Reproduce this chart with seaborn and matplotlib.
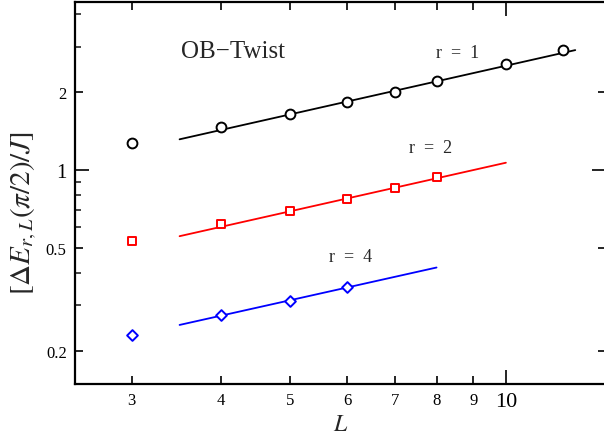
import numpy as np
import pandas as pd
import matplotlib
matplotlib.use("Agg")
import matplotlib.pyplot as plt
import matplotlib.ticker as mticker
import seaborn as sns

# ---- data ----
L_r1 = [3, 4, 5, 6, 7, 8, 10, 12]
E_r1 = [1.27, 1.47, 1.645, 1.835, 2.01, 2.21, 2.56, 2.92]
L_r2 = [3, 4, 5, 6, 7, 8]
E_r2 = [0.533, 0.619, 0.697, 0.773, 0.850, 0.937]
L_r4 = [3, 4, 5, 6]
E_r4 = [0.231, 0.276, 0.313, 0.352]

fit_r1_L = [3.5, 12.5]
fit_r1_E = [1.314, 2.906]
fit_r2_L = [3.5, 10.0]
fit_r2_E = [0.555, 1.067]
fit_r4_L = [3.5, 8.0]
fit_r4_E = [0.252, 0.420]

x_ticks = [3, 4, 5, 6, 7, 8, 9, 10]
x_ticklabels = ["3", "4", "5", "6", "7", "8", "9", "10"]
y_ticks = [0.2, 0.5, 1, 2]
y_ticklabels = ["0.2", "0.5", "1", "2"]
y_minor = [0.3, 0.4, 0.6, 0.7, 0.8, 0.9, 3, 4]

sns.set_theme(style="ticks")
plt.rcParams["font.family"] = ["Liberation Serif", "DejaVu Serif"]
plt.rcParams["mathtext.fontset"] = "stix"

fig = plt.figure(figsize=(6.04, 4.39), dpi=100)
ax = fig.add_axes([75 / 604, 1 - 385 / 439, (606 - 75) / 604, (385 - 2.7) / 439])
ax.set_xscale("log")
ax.set_yscale("log")

series = [
    (L_r1, E_r1, fit_r1_L, fit_r1_E, "black", "o", 50),
    (L_r2, E_r2, fit_r2_L, fit_r2_E, "red", "s", 36),
    (L_r4, E_r4, fit_r4_L, fit_r4_E, "blue", "D", 30),
]
for Lx, Ey, fL, fE, col, mk, s in series:
    sns.lineplot(x=fL, y=fE, color=col, linewidth=1.3, ax=ax, legend=False)
    sns.scatterplot(x=Lx, y=Ey, marker=mk, s=s, facecolor="white",
                    edgecolor=col, linewidth=1.4, ax=ax, legend=False, zorder=3)

ax.set_xlim(2.5, 13.8)
ax.set_ylim(0.149, 4.47)

ax.xaxis.set_major_locator(mticker.FixedLocator(x_ticks))
ax.xaxis.set_major_formatter(mticker.FixedFormatter(x_ticklabels))
ax.xaxis.set_minor_locator(mticker.NullLocator())
ax.yaxis.set_major_locator(mticker.FixedLocator(y_ticks))
ax.yaxis.set_major_formatter(mticker.FixedFormatter(y_ticklabels))
ax.yaxis.set_minor_locator(mticker.FixedLocator(y_minor))
ax.yaxis.set_minor_formatter(mticker.NullFormatter())

ax.tick_params(which="major", direction="in", length=6, width=1.2,
               top=True, right=True, labelsize=12, pad=6, colors="black")
ax.tick_params(which="minor", direction="in", length=4.5, width=1.2,
               left=True, right=False)

for t, v in zip(ax.xaxis.get_major_ticks(), x_ticks):
    if v == 10:
        t.tick1line.set_markersize(10)
        t.tick2line.set_markersize(10)
        t.label1.set_fontsize(16)
for t, v in zip(ax.yaxis.get_major_ticks(), y_ticks):
    if v == 1:
        t.tick1line.set_markersize(10)
        t.tick2line.set_markersize(10)
        t.label1.set_fontsize(15)

for sp in ax.spines.values():
    sp.set_linewidth(1.6)
    sp.set_color("black")

ax.set_xlabel(r"$L$", fontsize=17, labelpad=2)
ax.set_ylabel(r"$[\Delta E_{r,L}(\pi/2)/J]$", fontsize=21)
ax.yaxis.set_label_coords(-0.068, 0.451)

ax.text(3.52, 2.88, "OB\u2212Twist", fontsize=18, ha="left", va="center")
ax.text(8.55, 2.855, "r  =  1", fontsize=13, ha="center", va="center")
ax.text(7.86, 1.227, "r  =  2", fontsize=13, ha="center", va="center")
ax.text(6.07, 0.464, "r  =  4", fontsize=13, ha="center", va="center")

fig.savefig("out.png", dpi=100)
